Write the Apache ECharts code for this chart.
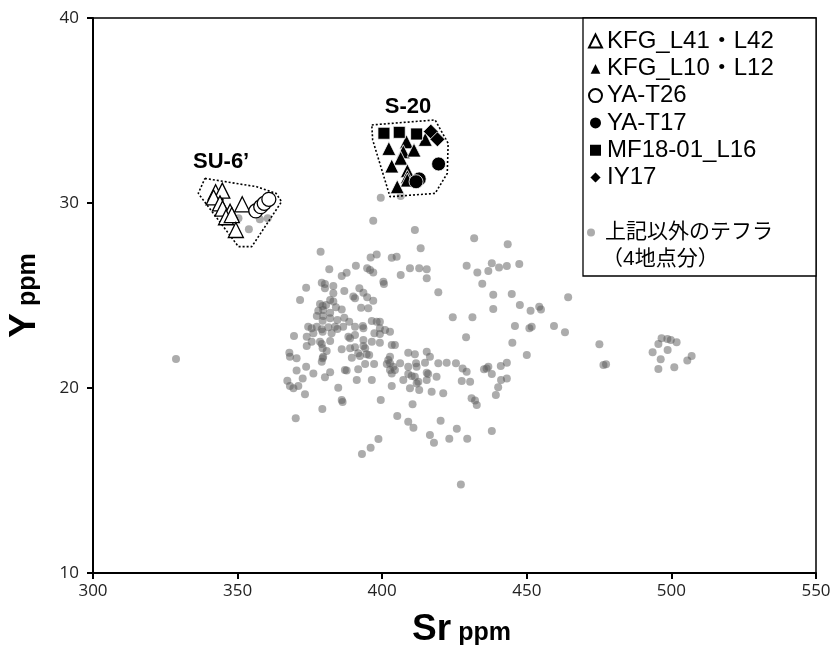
<!DOCTYPE html>
<html>
<head>
<meta charset="utf-8">
<script src="https://cdn.jsdelivr.net/npm/echarts@6/dist/echarts.min.js"></script>
<style>
  html, body { margin: 0; padding: 0; background: #fff; }
  #chart { width: 833px; height: 651px; }
</style>
</head>
<body>
<div id="chart"></div>
<script>
// 軸の目盛り
const xTicks = [300, 350, 400, 450, 500, 550]
const yTicks = [10, 20, 30, 40]

// 凡例の名前
const legendNames = ['KFG_L41・L42', 'KFG_L10・L12', 'YA-T26', 'YA-T17', 'MF18-01_L16', 'IY17']
const otherName = '上記以外のテフラ'
const otherNote = '（4地点分）'

// [Sr, Y]
const kfgL41 = [[342.4, 30.58], [344.7, 30.67], [341.7, 30.3], [343.9, 29.98], [344.8, 29.7], [347.4, 29.53], [346.0, 29.23], [348.0, 29.35], [349.4, 28.54], [351.6, 29.93]]
const kfgL10 = [[402.3, 32.95], [408.4, 33.31], [407.3, 32.77], [411.0, 32.86], [406.4, 32.42], [403.3, 32.0], [408.7, 31.75], [408.7, 31.42], [408.7, 31.24], [405.2, 30.88], [414.9, 33.44]]
const yaT26 = [[356.3, 29.57], [358.0, 29.8], [359.2, 29.98], [360.8, 30.2]]
const yaT17 = [[412.8, 31.3], [411.7, 31.15], [419.5, 32.11]]
const mf18 = [[400.6, 33.77], [405.9, 33.82], [411.9, 33.73]]
const iy17 = [[416.8, 33.86], [419.1, 33.44]]

const otherTephra = [
  [396.9, 29.04], [411.3, 28.54], [431.8, 28.09], [378.7, 27.37], [413.3, 27.55], [396.0, 27.06], [398.1, 27.21], [403.3, 27.04],
  [405.0, 27.10], [381.7, 26.42], [390.9, 26.61], [394.8, 26.47], [395.8, 26.38], [396.9, 26.25], [409.6, 26.47], [412.8, 26.47],
  [415.4, 26.42], [429.2, 26.61], [432.9, 26.25], [386.0, 26.05], [387.7, 26.23], [406.4, 26.11], [415.4, 25.93], [400.4, 25.75],
  [400.6, 25.62], [379.1, 25.69], [380.2, 25.62], [373.7, 25.42], [380.2, 25.39], [383.1, 25.51], [392.1, 25.39], [386.9, 25.24],
  [383.1, 25.12], [393.5, 25.15], [390.0, 24.94], [390.6, 24.85], [394.8, 24.90], [396.9, 24.72], [371.6, 24.76], [382.0, 24.76],
  [383.1, 24.67], [378.5, 24.54], [379.4, 24.43], [380.6, 24.49], [384.0, 24.36], [386.0, 24.25], [392.7, 24.34], [395.2, 24.31],
  [377.9, 24.18], [379.6, 24.22], [382.0, 24.07], [377.4, 23.89], [379.6, 23.89], [382.0, 23.77], [386.9, 23.80], [384.5, 23.68],
  [388.6, 23.58], [379.4, 23.64], [396.4, 23.62], [398.1, 23.58], [399.2, 23.58], [374.4, 23.31], [375.6, 23.23], [377.4, 23.31],
  [379.1, 23.17], [381.4, 23.28], [383.7, 23.31], [384.5, 23.19], [386.5, 23.31], [390.6, 23.31], [393.3, 23.35], [393.5, 23.23],
  [399.2, 23.23], [401.0, 23.14], [402.7, 23.04], [376.2, 22.96], [379.4, 23.04], [382.5, 22.96], [390.6, 22.86], [397.3, 22.96],
  [399.2, 22.92], [369.5, 22.81], [373.9, 22.77], [388.3, 22.77], [388.9, 22.69], [393.5, 22.59], [375.6, 22.50], [378.5, 22.50],
  [379.1, 22.38], [382.0, 22.54], [396.4, 22.50], [399.2, 22.45], [390.6, 22.20], [393.5, 22.27], [394.1, 22.15], [373.9, 22.27],
  [386.0, 22.09], [388.9, 22.15], [379.4, 22.15], [380.8, 22.00], [403.3, 22.32], [404.4, 22.32], [367.9, 21.91], [368.1, 21.69],
  [391.7, 21.88], [392.3, 21.73], [394.6, 21.82], [395.5, 21.78], [379.6, 21.69], [379.4, 21.61], [370.4, 21.61], [389.5, 21.64],
  [402.7, 21.69], [409.0, 21.91], [411.3, 21.82], [415.4, 21.96], [416.5, 21.69], [379.1, 21.42], [402.1, 21.51], [401.6, 21.30],
  [402.7, 21.34], [403.8, 21.15], [404.4, 20.97], [406.2, 21.34], [409.0, 21.15], [411.7, 21.34], [411.9, 21.15], [414.8, 21.37],
  [419.4, 21.34], [422.3, 21.37], [425.5, 21.34], [427.8, 21.06], [429.2, 20.88], [373.7, 21.15], [394.1, 21.30], [397.2, 21.30],
  [387.1, 20.97], [387.7, 20.94], [391.7, 21.01], [370.4, 20.94], [376.2, 20.79], [382.0, 20.85], [402.7, 20.97], [403.3, 20.79],
  [409.0, 20.76], [410.2, 20.65], [411.3, 20.61], [415.4, 20.83], [415.9, 20.76], [418.8, 20.61], [372.5, 20.52], [380.2, 20.58],
  [391.2, 20.43], [396.4, 20.43], [407.3, 20.43], [412.5, 20.34], [411.9, 20.25], [415.4, 20.43], [427.5, 20.38], [430.4, 20.34],
  [367.2, 20.39], [368.1, 20.11], [369.3, 19.98], [371.0, 20.11], [384.8, 20.02], [403.3, 20.11], [409.6, 19.98], [412.8, 19.89],
  [417.1, 19.80], [421.1, 19.71], [373.3, 19.66], [430.9, 19.44], [386.0, 19.35], [424.4, 23.82], [431.2, 23.82], [429.0, 22.74],
  [419.4, 25.17], [447.6, 24.49], [451.3, 24.18], [454.3, 24.39], [454.9, 24.25], [438.4, 24.27], [445.9, 23.35], [450.9, 23.23],
  [451.7, 23.31], [459.4, 23.35], [463.2, 23.01], [445.0, 22.45], [450.0, 21.78], [435.2, 21.01], [436.1, 21.06], [436.7, 21.15],
  [437.9, 20.76], [441.0, 21.19], [443.1, 21.37], [441.1, 20.43], [443.1, 20.52], [440.1, 20.04], [439.3, 19.62], [432.1, 19.33],
  [432.7, 19.08], [410.5, 19.12], [405.2, 18.49], [409.0, 18.18], [410.8, 17.85], [420.2, 18.23], [416.5, 17.46], [417.9, 17.04],
  [423.2, 17.26], [425.8, 17.80], [429.4, 17.26], [437.9, 17.68], [427.2, 14.79], [399.5, 19.35], [379.3, 18.86], [386.3, 19.24],
  [370.1, 18.36], [398.7, 17.24], [396.0, 16.77], [393.0, 16.43], [443.4, 27.77], [436.7, 26.32], [437.9, 26.74], [440.4, 26.52],
  [443.1, 26.59], [447.4, 26.70], [434.6, 25.64], [438.4, 25.04], [444.8, 25.08], [464.3, 24.90], [475.1, 22.36], [476.5, 21.24],
  [477.4, 21.28], [496.6, 22.69], [498.6, 22.65], [499.8, 22.59], [501.8, 22.47], [495.5, 22.38], [493.5, 21.93], [498.7, 22.05],
  [496.3, 21.55], [495.5, 21.03], [501.0, 21.12], [505.5, 21.48], [507.0, 21.73], [328.7, 21.57], [399.5, 30.29], [406.4, 30.38],
  [350.3, 29.17], [353.9, 28.58], [357.7, 29.12], [360.4, 29.17]
]

// 点線の囲み
const hullSU6 = [[338.7, 31.33], [356.6, 30.88], [363.3, 30.52], [365.2, 30.07], [354.9, 27.64], [350.3, 27.64], [336.4, 30.52], [338.7, 31.33]]
const hullS20 = [[396.4, 34.22], [418.3, 34.49], [422.8, 33.23], [422.5, 31.6], [418.3, 30.52], [402.7, 30.34], [396.7, 33.41], [396.4, 34.22]]

// グループ名
const groupLabels = [
  { name: 'SU-6’', value: [344.3, 32.2] },
  { name: 'S-20', value: [408.9, 35.2] }
]

const FONT = "'Liberation Sans', Arial, 'Noto Sans CJK JP', sans-serif"

const chart = echarts.init(document.getElementById('chart'))

const openStyle = { color: '#fff', borderColor: '#000', borderWidth: 1.3, opacity: 1 }
const fillStyle = { color: '#000', borderColor: '#fff', borderWidth: 0.8, opacity: 1 }

const axisTitleRich = {
  a: { fontSize: 37, fontWeight: 'bold', fontFamily: FONT, color: '#000', verticalAlign: 'bottom' },
  b: { fontSize: 25, fontWeight: 'bold', fontFamily: FONT, color: '#000', verticalAlign: 'bottom', padding: [0, 0, 2, 0] }
}

const option = {
  animation: false,
  grid: {
    left: 93,
    right: 17,
    top: 18,
    bottom: 78,
    outerBoundsMode: 'none',
    show: true,
    borderColor: '#000',
    borderWidth: 1.5
  },
  xAxis: {
    type: 'value',
    min: xTicks[0],
    max: xTicks[xTicks.length - 1],
    interval: 50,
    name: '{a|Sr}{b| ppm}',
    nameLocation: 'middle',
    nameGap: 38,
    nameTextStyle: { rich: axisTitleRich, padding: [0, 0, 0, 14] },
    axisLine: { lineStyle: { color: '#000', width: 2 } },
    axisTick: { length: 6, lineStyle: { color: '#000', width: 2 } },
    axisLabel: { color: '#222', fontSize: 17, fontFamily: "'Open Sans', sans-serif", margin: 10 },
    splitLine: { show: false }
  },
  yAxis: {
    type: 'value',
    min: yTicks[0],
    max: yTicks[yTicks.length - 1],
    interval: 10,
    name: '{a|Y}{b| ppm}',
    nameLocation: 'middle',
    nameRotate: 90,
    nameGap: 50,
    nameTextStyle: { rich: axisTitleRich },
    axisLine: { lineStyle: { color: '#000', width: 2 } },
    axisTick: { length: 6, lineStyle: { color: '#000', width: 2 } },
    axisLabel: { color: '#222', fontSize: 17, fontFamily: "'Open Sans', sans-serif", margin: 14 },
    splitLine: { show: false }
  },
  legend: [
    {
      data: legendNames,
      orient: 'vertical',
      left: 588,
      top: 29,
      padding: 0,
      itemGap: 3.3,
      itemWidth: 13,
      itemHeight: 13,
      selectedMode: false,
      textStyle: { fontSize: 24, fontFamily: FONT, color: '#000', lineHeight: 24 },
      z: 10
    },
    {
      data: [otherName],
      orient: 'vertical',
      left: 587,
      top: 222,
      padding: 0,
      itemWidth: 8,
      itemHeight: 8,
      selectedMode: false,
      textStyle: { fontSize: 21, fontFamily: FONT, color: '#000', lineHeight: 21, padding: [0, 0, 0, 5] },
      z: 10
    }
  ],
  graphic: [
    {
      type: 'rect',
      z: 5,
      shape: { x: 583, y: 18, width: 233, height: 258 },
      style: { fill: '#fff', stroke: '#000', lineWidth: 1.3 }
    },
    {
      type: 'text',
      z: 11,
      left: 602,
      top: 249,
      style: { text: otherNote, fontSize: 21, fontFamily: FONT, fill: '#000' }
    }
  ],
  series: [
    {
      name: otherName,
      type: 'scatter',
      data: otherTephra,
      symbolSize: 8,
      itemStyle: { color: 'rgba(90,90,90,0.5)', opacity: 1 },
      z: 2
    },
    {
      type: 'line',
      data: hullSU6,
      showSymbol: false,
      symbol: 'none',
      lineStyle: { color: '#000', width: 1.6, type: [2, 2] },
      z: 3,
      silent: true
    },
    {
      type: 'line',
      data: hullS20,
      showSymbol: false,
      symbol: 'none',
      lineStyle: { color: '#000', width: 1.6, type: [2, 2] },
      z: 3,
      silent: true
    },
    {
      type: 'scatter',
      data: groupLabels,
      symbol: 'circle',
      symbolSize: 1,
      itemStyle: { color: 'rgba(0,0,0,0)', opacity: 1 },
      label: {
        show: true,
        position: 'inside',
        formatter: (p) => p.name,
        fontSize: 22,
        fontWeight: 'bold',
        fontFamily: FONT,
        color: '#000',
        opacity: 1
      },
      z: 4,
      silent: true
    },
    {
      name: legendNames[0],
      type: 'scatter',
      data: kfgL41,
      symbol: 'triangle',
      symbolSize: 15,
      itemStyle: openStyle,
      z: 6
    },
    {
      name: legendNames[1],
      type: 'scatter',
      data: kfgL10,
      symbol: 'triangle',
      symbolSize: 14,
      itemStyle: fillStyle,
      z: 6
    },
    {
      name: legendNames[2],
      type: 'scatter',
      data: yaT26,
      symbol: 'circle',
      symbolSize: 14,
      itemStyle: openStyle,
      z: 6
    },
    {
      name: legendNames[3],
      type: 'scatter',
      data: yaT17,
      symbol: 'circle',
      symbolSize: 14,
      itemStyle: fillStyle,
      z: 6
    },
    {
      name: legendNames[4],
      type: 'scatter',
      data: mf18,
      symbol: 'rect',
      symbolSize: 12,
      itemStyle: fillStyle,
      z: 6
    },
    {
      name: legendNames[5],
      type: 'scatter',
      data: iy17,
      symbol: 'diamond',
      symbolSize: 15,
      itemStyle: fillStyle,
      z: 6
    }
  ]
}

chart.setOption(option)
</script>
</body>
</html>
